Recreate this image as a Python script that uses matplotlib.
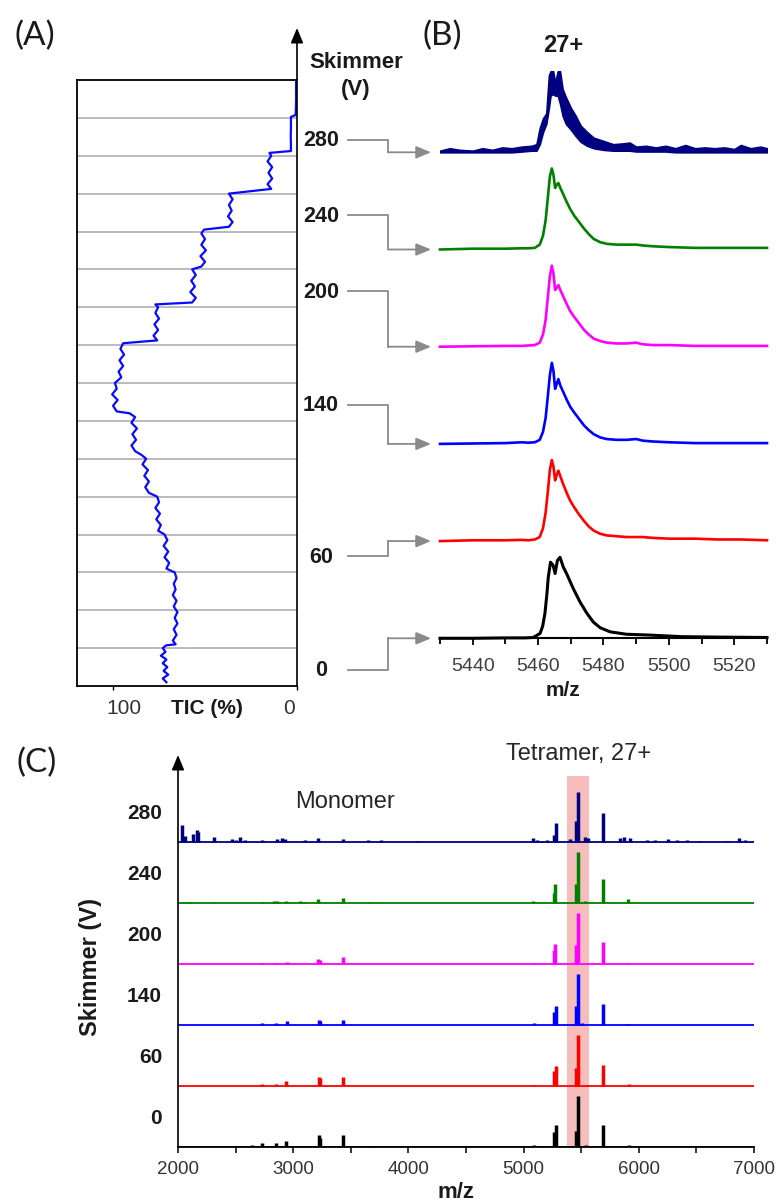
import numpy as np
import matplotlib
matplotlib.use("Agg")
import matplotlib.pyplot as plt
from matplotlib.lines import Line2D
from matplotlib.patches import FancyArrowPatch
from matplotlib.ticker import MultipleLocator
import matplotlib.transforms as mtrans

plt.rcParams['font.family'] = ['Liberation Sans', 'DejaVu Sans']

# ---------------- data ----------------
# Panel A: TIC (%) vs skimmer voltage (V)
tic_v = [-8, -6, -4, -2, 0, 2, 4, 6, 8, 10, 11.5,
         12, 14, 17, 20, 23, 26, 29, 32, 35, 38, 41, 44, 47, 50,
         52, 55, 58, 61, 64, 67, 70,
         72, 75, 78, 81, 84, 87, 90,
         92, 95, 98, 101, 104, 107, 110, 112,
         114, 117, 120, 123, 126, 129, 132, 134,
         135, 138, 141, 144, 147, 150, 153, 156, 159, 162, 165, 168, 171,
         172.5, 175, 178, 181, 184, 187, 190, 191.5,
         192.5, 195, 198, 201, 204, 207, 210,
         211.5, 214, 217, 220, 223, 226, 229, 231,
         232.5, 235, 238, 241, 244, 247, 250,
         252.5, 255, 258, 261, 264, 267, 270, 271.5,
         272.5, 276, 280, 285, 290.5,
         291.5, 295, 300, 305, 310]
tic_pct = [71, 73, 70, 72.5, 70.5, 73, 71, 74, 71.5, 73, 71,
           66, 67.5, 65.5, 67, 65, 66.5, 65, 67, 65.5, 67.5, 66, 67, 65.5, 66.5,
           71, 69.5, 72, 70, 72.5, 70.5, 72,
           75.5, 74, 76.5, 74.5, 77, 75, 76,
           80.5, 82.5, 80.5, 83, 81, 84, 82, 84.5,
           88, 90, 87.5, 89.5, 87, 90, 88, 91,
           98, 100, 97.5, 100.5, 98, 99, 95.5, 97, 94.5, 96.5, 94, 96, 94.5,
           76, 78, 75.5, 77.5, 75, 77, 75.5, 77,
           57, 55, 58, 55.5, 57.5, 55, 57,
           52, 50, 52.5, 49.5, 52, 50, 52, 50.5,
           37, 35, 37.5, 35.5, 37, 35, 37,
           14, 16, 13.5, 15.5, 13.5, 16, 14, 15,
           3.3, 3.3, 3.4, 3.3, 3.3,
           0.8, 0.6, 0.5, 0.5, 0.5]
grid_v = [10, 30, 50, 70, 90, 110, 130, 150, 170, 190, 210, 230, 250, 270, 290]
skimmer_sel = [0, 60, 140, 200, 240, 280]
trace_colors = ['#000000', '#ff0000', '#0000ff', '#ff00ff', '#008000', '#000080']

# Panel B: 27+ peak profiles (normalised intensity)
b_mz_black = [5430, 5440, 5450, 5456, 5458.5, 5460.6, 5461.4, 5462.1, 5462.7, 5463.1,
              5463.8, 5464.6, 5465.2, 5465.9, 5466.7, 5467.7, 5468.7, 5469.8, 5470.8,
              5472.8, 5474.9, 5476.9, 5479, 5482, 5487, 5494, 5504, 5515, 5530]
b_int_black = [0, 0, 0.005, 0.005, 0.01, 0.06, 0.15, 0.31, 0.55, 0.75,
               0.94, 0.9, 0.8, 0.96, 1.0, 0.88, 0.8, 0.7, 0.61,
               0.45, 0.31, 0.2, 0.13, 0.08, 0.05, 0.04, 0.02, 0.015, 0.01]
b_mz = [5430, 5440, 5450, 5455, 5457, 5459, 5460.5, 5461.5, 5462.3, 5463.0, 5463.6,
        5464.2, 5464.7, 5465.2, 5465.7, 5466.2, 5466.8, 5467.7, 5468.7, 5469.8, 5471.0,
        5472.5, 5474.0, 5475.5, 5477.0, 5479.0, 5481.0, 5484.0, 5487.0, 5490.0, 5492.0,
        5495.0, 5500.0, 5508.0, 5515.0, 5522.0, 5530.0]
b_int_red = [0, 0.01, 0.01, 0.015, 0.01, 0.02, 0.05, 0.16, 0.35, 0.62, 0.88,
             1.0, 0.92, 0.75, 0.82, 0.87, 0.8, 0.7, 0.6, 0.5, 0.42,
             0.33, 0.25, 0.18, 0.13, 0.09, 0.07, 0.06, 0.05, 0.05, 0.05,
             0.04, 0.03, 0.03, 0.02, 0.02, 0.01]
b_int_blue = [0, 0.005, 0.01, 0.02, 0.015, 0.02, 0.05, 0.15, 0.32, 0.6, 0.85,
              1.0, 0.9, 0.68, 0.74, 0.8, 0.72, 0.64, 0.55, 0.46, 0.39,
              0.31, 0.23, 0.17, 0.12, 0.08, 0.06, 0.05, 0.05, 0.06, 0.04,
              0.03, 0.02, 0.01, 0.01, 0.01, 0.01]
b_int_magenta = [0, 0.005, 0.01, 0.01, 0.015, 0.02, 0.05, 0.15, 0.33, 0.62, 0.87,
                 1.0, 0.9, 0.7, 0.73, 0.76, 0.7, 0.62, 0.53, 0.44, 0.37,
                 0.29, 0.21, 0.15, 0.1, 0.07, 0.05, 0.04, 0.04, 0.05, 0.03,
                 0.02, 0.02, 0.01, 0.01, 0.01, 0.01]
b_int_green = [0, 0.01, 0.01, 0.015, 0.015, 0.02, 0.06, 0.17, 0.36, 0.65, 0.9,
               1.0, 0.92, 0.76, 0.8, 0.82, 0.76, 0.68, 0.59, 0.5, 0.42,
               0.34, 0.26, 0.19, 0.13, 0.09, 0.07, 0.06, 0.06, 0.06, 0.05,
               0.04, 0.03, 0.02, 0.02, 0.02, 0.02]
b_mz_navy = [5430, 5433, 5436, 5440, 5443, 5446, 5449, 5452, 5455, 5458, 5459.5,
             5460.5, 5461.5, 5462.5, 5463.3, 5463.8, 5464.6, 5465.2, 5466.0, 5466.7,
             5467.5, 5468.5, 5470, 5471.5, 5473, 5475, 5477, 5480, 5483, 5486, 5488,
             5490, 5493, 5496, 5499, 5502, 5505, 5508, 5511, 5514, 5517, 5520, 5522,
             5525, 5528, 5530]
b_lo_navy = [0, 0, 0, 0, 0, 0, 0, 0, 0.01, 0.02, 0.02,
             0.1, 0.25, 0.35, 0.55, 0.7, 0.72, 0.7, 0.7, 0.6,
             0.45, 0.35, 0.28, 0.2, 0.13, 0.08, 0.05, 0.03, 0.02, 0.02, 0.02,
             0.01, 0.01, 0.01, 0.01, 0, 0, 0, 0, 0, 0, 0, 0,
             0, 0, 0]
b_hi_navy = [0.02, 0.05, 0.03, 0.02, 0.05, 0.03, 0.06, 0.05, 0.07, 0.08, 0.1,
             0.3, 0.42, 0.48, 0.95, 1.0, 1.0, 0.86, 1.0, 1.0,
             0.78, 0.68, 0.55, 0.45, 0.33, 0.25, 0.18, 0.14, 0.1, 0.11, 0.12,
             0.07, 0.08, 0.06, 0.08, 0.05, 0.09, 0.05, 0.06, 0.05, 0.06, 0.04, 0.09,
             0.05, 0.07, 0.05]

# Panel C: full spectra, peak positions (m/z) and normalised heights
c_mz_black = [2643, 2726, 2851, 2937, 3080, 3110, 3220, 3232, 3429, 3663, 5090, 5262,
              5278, 5452, 5470, 5540, 5690, 5918]
c_h_black = [0.03, 0.07, 0.08, 0.11, 0.02, 0.02, 0.23, 0.18, 0.24, 0.02, 0.04, 0.3,
             0.44, 0.31, 1.0, 0.04, 0.44, 0.03]
c_mz_red = [2726, 2851, 2937, 3220, 3232, 3429, 5090, 5262, 5278, 5452, 5470, 5540, 5690, 5918]
c_h_red = [0.04, 0.04, 0.1, 0.17, 0.15, 0.18, 0.02, 0.3, 0.39, 0.35, 1.0, 0.03, 0.41, 0.04]
c_mz_blue = [2726, 2851, 2946, 3220, 3232, 3429, 5090, 5262, 5278, 5452, 5470, 5510, 5690, 5910]
c_h_blue = [0.05, 0.05, 0.08, 0.11, 0.09, 0.11, 0.05, 0.25, 0.37, 0.37, 1.0, 0.05, 0.41, 0.03]
c_mz_magenta = [2726, 2842, 2945, 3218, 3230, 3435, 5095, 5262, 5273, 5452, 5470, 5688, 5910]
c_h_magenta = [0.03, 0.03, 0.04, 0.11, 0.08, 0.14, 0.03, 0.28, 0.39, 0.38, 1.0, 0.44, 0.03]
c_mz_green = [2045, 2102, 2300, 2726, 2830, 2860, 2937, 3059, 3094, 3218, 3429, 3667,
              5085, 5260, 5273, 5455, 5470, 5530, 5688, 5910]
c_h_green = [0.03, 0.03, 0.03, 0.03, 0.04, 0.04, 0.05, 0.04, 0.03, 0.09, 0.11, 0.03,
             0.05, 0.2, 0.38, 0.38, 1.0, 0.04, 0.47, 0.08]
c_mz_navy = [2032, 2061, 2127, 2162, 2177, 2313, 2466, 2500, 2540, 2582, 2732, 2856,
             2900, 2929, 3102, 3218, 3435, 3652, 3762, 4083, 5085, 5114, 5150, 5200,
             5262, 5281, 5403, 5455, 5470, 5530, 5560, 5687, 5837, 5870, 5925, 6069,
             6140, 6250, 6330, 6420, 6531, 6763, 6872, 6920]
c_h_navy = [0.35, 0.13, 0.16, 0.24, 0.2, 0.11, 0.06, 0.05, 0.11, 0.05, 0.05, 0.06,
            0.08, 0.06, 0.04, 0.08, 0.06, 0.05, 0.05, 0.02, 0.09, 0.04, 0.03, 0.04,
            0.15, 0.39, 0.07, 0.43, 1.0, 0.11, 0.08, 0.57, 0.08, 0.1, 0.08, 0.05,
            0.04, 0.06, 0.04, 0.05, 0.03, 0.03, 0.08, 0.04]
tetramer_band = (5380, 5570)

b_xticks = [5440, 5460, 5480, 5500, 5520]
c_xticks = [2000, 3000, 4000, 5000, 6000, 7000]
stack_step = 1.2

# ---------------- figure ----------------
W, H = 781, 1203
fig = plt.figure(figsize=(W / 100, H / 100), dpi=100)


def px_axes(x0, y0, x1, y1):
    return fig.add_axes([x0 / W, 1 - y1 / H, (x1 - x0) / W, (y1 - y0) / H])


def ftxt(x, y, s, **kw):
    return fig.text(x / W, 1 - y / H, s, **kw)


grey = '#8a8a8a'
arrow_style = '-|>,head_length=0.6,head_width=0.25'

# ---- Panel A ----
axA = px_axes(77, 80, 297, 686)
axA.set_xlim(119.6, 0)
axA.set_ylim(-10, 310)
for g in grid_v:
    axA.axhline(g, color='#a8a8a8', lw=1.1, zorder=1)
axA.plot(tic_pct, tic_v, color='#0a0aff', lw=1.6, zorder=3)
axA.spines['right'].set_visible(False)
for s in ['top', 'left', 'bottom']:
    axA.spines[s].set_linewidth(1.3)
axA.set_yticks([])
axA.set_xticks([100, 0])
axA.set_xticklabels([])
axA.tick_params(axis='x', direction='out', length=3, width=1.0)
axA.annotate('', xy=(1, (686 - 28) / 606), xytext=(1, 0), xycoords='axes fraction',
             textcoords='axes fraction', annotation_clip=False,
             arrowprops=dict(arrowstyle=arrow_style, lw=1.2, color='black',
                             mutation_scale=15, shrinkA=0, shrinkB=0))
blendA = mtrans.blended_transform_factory(axA.transAxes, axA.transData)
for v in skimmer_sel:
    axA.text((321 - 77) / 220, v - 2, str(v), transform=blendA, ha='center', va='center',
             fontsize=15.5, fontweight='bold', color='#1a1a1a')
ftxt(356, 62, 'Skimmer', ha='center', va='center', fontsize=16, fontweight='bold', color='#1a1a1a')
ftxt(356, 89, '(V)', ha='center', va='center', fontsize=16, fontweight='bold', color='#1a1a1a')
ftxt(124, 708, '100', ha='center', va='center', fontsize=15, color='#333333')
ftxt(289, 708, '0', ha='center', va='center', fontsize=15, color='#333333')
ftxt(207, 708, 'TIC (%)', ha='center', va='center', fontsize=15, fontweight='bold', color='#1a1a1a')

# ---- Panel B ----
axB = px_axes(440, 47, 767, 638.3)
axB.set_xlim(5430, 5530)
axB.set_ylim(0, 7.3)
b_series = [(b_mz_black, b_int_black), (b_mz, b_int_red), (b_mz, b_int_blue),
            (b_mz, b_int_magenta), (b_mz, b_int_green)]
for i, (mz, it) in enumerate(b_series):
    off = i * stack_step
    axB.plot(mz, np.asarray(it) + off, color=trace_colors[i], lw=2.2 if i == 0 else 1.9,
             clip_on=False, zorder=3)
off_n = 5 * stack_step
axB.fill_between(b_mz_navy, np.asarray(b_lo_navy) + off_n, np.asarray(b_hi_navy) + off_n,
                 color=trace_colors[5], lw=1.2, edgecolor=trace_colors[5], zorder=3)
for s in ['top', 'left', 'right']:
    axB.spines[s].set_visible(False)
axB.spines['bottom'].set_linewidth(1.5)
axB.set_yticks([])
axB.set_xticks(b_xticks)
axB.xaxis.set_minor_locator(MultipleLocator(10))
axB.tick_params(axis='x', which='major', direction='out', length=5, width=1.3,
                labelsize=14, labelcolor='#404040', pad=9)
axB.tick_params(axis='x', which='minor', direction='out', length=4, width=1.3)
ftxt(563, 45, '27+', ha='center', va='center', fontsize=17, fontweight='bold', color='#1a1a1a')
ftxt(563, 691, 'm/z', ha='center', va='center', fontsize=15, fontweight='bold', color='#1a1a1a')

# connectors from panel A labels to panel B traces
inv = fig.transFigure.inverted()
fig.canvas.draw()
for i, v in enumerate(skimmer_sel):
    ya = axA.transData.transform((0, v - 1.5))[1]
    yb = axB.transData.transform((5430, i * stack_step))[1]
    x0, x1, x2 = 348, 388, 431
    p0 = inv.transform((x0, ya))
    p1 = inv.transform((x1, ya))
    p2 = inv.transform((x1, yb))
    p3 = inv.transform((x2, yb))
    fig.add_artist(Line2D([p0[0], p1[0], p2[0]], [p0[1], p1[1], p2[1]],
                          transform=fig.transFigure, color=grey, lw=1.3))
    fig.add_artist(FancyArrowPatch(tuple(p2), tuple(p3), transform=fig.transFigure,
                                   arrowstyle=arrow_style, mutation_scale=15,
                                   color=grey, lw=1.3, shrinkA=0, shrinkB=0))

# ---- Panel C ----
axC = px_axes(178, 755, 754, 1147)
axC.set_xlim(2000, 7000)
axC.set_ylim(0, 7.72)
axC.axvspan(tetramer_band[0], tetramer_band[1], ymin=0, ymax=(1147 - 776) / 392,
            color='#f6bdbd', lw=0, zorder=0)
c_series = [(c_mz_black, c_h_black), (c_mz_red, c_h_red), (c_mz_blue, c_h_blue),
            (c_mz_magenta, c_h_magenta), (c_mz_green, c_h_green), (c_mz_navy, c_h_navy)]
for i, (mz, h) in enumerate(c_series):
    off = i * stack_step
    axC.hlines(off, 2000, 7000, color=trace_colors[i], lw=1.3, zorder=2)
    axC.vlines(mz, off, np.asarray(h) + off, color=trace_colors[i], lw=2.5, zorder=3)
for s in ['top', 'left', 'right']:
    axC.spines[s].set_visible(False)
axC.spines['bottom'].set_linewidth(1.3)
axC.set_xticks(c_xticks)
axC.xaxis.set_minor_locator(MultipleLocator(500))
axC.tick_params(axis='x', which='major', direction='out', length=4, width=1.1,
                labelsize=13.5, labelcolor='#333333', pad=6)
axC.tick_params(axis='x', which='minor', direction='out', length=4, width=1.1)
axC.set_yticks([i * stack_step + 0.6 for i in range(len(skimmer_sel))])
axC.set_yticklabels([str(v) for v in skimmer_sel], fontsize=15, fontweight='bold', color='#1a1a1a')
axC.tick_params(axis='y', length=0, pad=11.5)
axC.annotate('', xy=(0, 1), xytext=(0, 0), xycoords='axes fraction',
             textcoords='axes fraction', annotation_clip=False,
             arrowprops=dict(arrowstyle=arrow_style, lw=1.2, color='black',
                             mutation_scale=15, shrinkA=0, shrinkB=0))
ftxt(456, 1193, 'm/z', ha='center', va='center', fontsize=16, fontweight='bold', color='#1a1a1a')
ftxt(90, 967, 'Skimmer (V)', ha='center', va='center', rotation=90, fontsize=17,
     fontweight='bold', color='#1a1a1a')
ftxt(579, 754, 'Tetramer, 27+', ha='center', va='center', fontsize=17, color='#262626')
ftxt(345, 802, 'Monomer', ha='center', va='center', fontsize=17, color='#262626')

# panel letters
for (x, y, s) in [(15, 36, '(A)'), (423, 36, '(B)'), (17, 763, '(C)')]:
    ftxt(x, y, s, ha='left', va='center', fontsize=24, family=['Lato', 'DejaVu Sans'],
         color='#1a1a1a')

fig.savefig('out.png', dpi=100)
